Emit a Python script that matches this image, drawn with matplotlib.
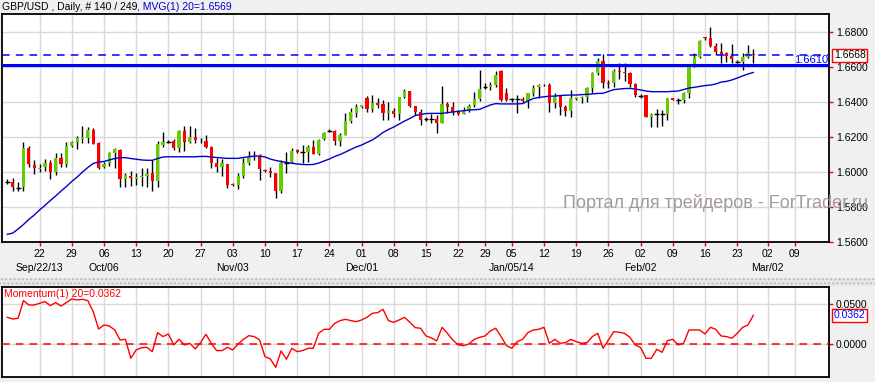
import numpy as np
import matplotlib
matplotlib.use('Agg')
import matplotlib.pyplot as plt
from matplotlib.patches import Rectangle
from matplotlib.transforms import blended_transform_factory

plt.rcParams['font.family'] = ['Liberation Sans', 'DejaVu Sans']

# GBP/USD daily candles
opens = [1.5945, 1.5945, 1.5910, 1.5912, 1.6139, 1.6040, 1.6015, 1.6027, 1.6050, 1.6002,
         1.6082, 1.6044, 1.6150, 1.6173, 1.6190, 1.6196, 1.6240, 1.6164, 1.6027, 1.6050,
         1.6107, 1.6126, 1.5962, 1.5979, 1.5962, 1.5973, 1.5977, 1.5992, 1.5950, 1.6154,
         1.6173, 1.6177, 1.6139, 1.6234, 1.6173, 1.6202, 1.6175, 1.6177, 1.6145, 1.6053,
         1.6030, 1.6046, 1.5930, 1.5926, 1.5977, 1.6050, 1.6088, 1.6094, 1.6010, 1.6006,
         1.5992, 1.5891, 1.6053, 1.6059, 1.6126, 1.6112, 1.6112, 1.6145, 1.6103, 1.6187,
         1.6236, 1.6234, 1.6179, 1.6211, 1.6291, 1.6339, 1.6370, 1.6425, 1.6360, 1.6392,
         1.6386, 1.6339, 1.6349, 1.6332, 1.6430, 1.6463, 1.6379, 1.6345, 1.6303, 1.6301,
         1.6303, 1.6282, 1.6388, 1.6369, 1.6345, 1.6331, 1.6350, 1.6383, 1.6415, 1.6487,
         1.6487, 1.6497, 1.6579, 1.6453, 1.6415, 1.6415, 1.6417, 1.6405, 1.6449, 1.6487,
         1.6495, 1.6497, 1.6396, 1.6440, 1.6369, 1.6350, 1.6419, 1.6423, 1.6430, 1.6478,
         1.6568, 1.6634, 1.6507, 1.6507, 1.6577, 1.6570, 1.6564, 1.6503, 1.6434, 1.6440,
         1.6316, 1.6330, 1.6330, 1.6330, 1.6421, 1.6411, 1.6411, 1.6453, 1.6611, 1.6659,
         1.6773, 1.6764, 1.6720, 1.6684, 1.6678, 1.6665, 1.6631, 1.6631, 1.6659, 1.6672]
highs = [1.5960, 1.5964, 1.5945, 1.6173, 1.6150, 1.6069, 1.6044, 1.6074, 1.6069, 1.6111,
         1.6107, 1.6173, 1.6179, 1.6206, 1.6263, 1.6259, 1.6250, 1.6170, 1.6059, 1.6116,
         1.6135, 1.6130, 1.5992, 1.6006, 1.5996, 1.6025, 1.6025, 1.6069, 1.6179, 1.6227,
         1.6183, 1.6187, 1.6240, 1.6263, 1.6263, 1.6250, 1.6192, 1.6211, 1.6149, 1.6078,
         1.6074, 1.6046, 1.5935, 1.5992, 1.6078, 1.6120, 1.6120, 1.6101, 1.6015, 1.6027,
         1.5992, 1.6069, 1.6116, 1.6135, 1.6130, 1.6154, 1.6154, 1.6183, 1.6189, 1.6230,
         1.6246, 1.6240, 1.6225, 1.6339, 1.6364, 1.6387, 1.6383, 1.6434, 1.6440, 1.6425,
         1.6412, 1.6402, 1.6364, 1.6430, 1.6472, 1.6463, 1.6379, 1.6358, 1.6316, 1.6330,
         1.6326, 1.6491, 1.6402, 1.6402, 1.6354, 1.6373, 1.6387, 1.6459, 1.6583, 1.6507,
         1.6516, 1.6579, 1.6583, 1.6478, 1.6421, 1.6440, 1.6430, 1.6453, 1.6497, 1.6501,
         1.6505, 1.6510, 1.6453, 1.6440, 1.6383, 1.6469, 1.6431, 1.6434, 1.6488, 1.6574,
         1.6650, 1.6672, 1.6526, 1.6587, 1.6625, 1.6621, 1.6574, 1.6507, 1.6446, 1.6440,
         1.6339, 1.6358, 1.6354, 1.6421, 1.6421, 1.6421, 1.6459, 1.6611, 1.6678, 1.6754,
         1.6773, 1.6830, 1.6735, 1.6735, 1.6688, 1.6730, 1.6640, 1.6678, 1.6726, 1.6701]
lows = [1.5931, 1.5893, 1.5893, 1.5893, 1.6030, 1.5987, 1.5998, 1.6006, 1.5958, 1.5981,
        1.6030, 1.6030, 1.6145, 1.6129, 1.6164, 1.6164, 1.6160, 1.6015, 1.6021, 1.6034,
        1.6021, 1.5916, 1.5916, 1.5920, 1.5926, 1.5920, 1.5916, 1.5893, 1.5916, 1.6145,
        1.6164, 1.6126, 1.6116, 1.6122, 1.6168, 1.6164, 1.6164, 1.6135, 1.6025, 1.6002,
        1.5977, 1.5911, 1.5922, 1.5903, 1.5964, 1.6040, 1.6070, 1.5954, 1.6002, 1.5970,
        1.5853, 1.5878, 1.5992, 1.6050, 1.6111, 1.6053, 1.6059, 1.6103, 1.6097, 1.6183,
        1.6227, 1.6154, 1.6149, 1.6211, 1.6278, 1.6316, 1.6364, 1.6345, 1.6345, 1.6364,
        1.6300, 1.6297, 1.6316, 1.6297, 1.6421, 1.6373, 1.6326, 1.6268, 1.6291, 1.6278,
        1.6221, 1.6282, 1.6335, 1.6326, 1.6326, 1.6331, 1.6345, 1.6373, 1.6407, 1.6472,
        1.6468, 1.6487, 1.6407, 1.6405, 1.6402, 1.6335, 1.6392, 1.6364, 1.6434, 1.6421,
        1.6490, 1.6345, 1.6364, 1.6326, 1.6320, 1.6312, 1.6411, 1.6396, 1.6402, 1.6450,
        1.6554, 1.6482, 1.6478, 1.6488, 1.6530, 1.6522, 1.6488, 1.6427, 1.6421, 1.6312,
        1.6255, 1.6255, 1.6263, 1.6297, 1.6411, 1.6389, 1.6392, 1.6421, 1.6602, 1.6650,
        1.6754, 1.6716, 1.6669, 1.6621, 1.6631, 1.6621, 1.6621, 1.6583, 1.6650, 1.6621]
closes = [1.5945, 1.5912, 1.5910, 1.6139, 1.6044, 1.6025, 1.6025, 1.6050, 1.6002, 1.6082,
          1.6044, 1.6149, 1.6173, 1.6192, 1.6198, 1.6240, 1.6160, 1.6025, 1.6046, 1.6107,
          1.6130, 1.5962, 1.5981, 1.5966, 1.5973, 1.5977, 1.5989, 1.5950, 1.6158, 1.6173,
          1.6173, 1.6139, 1.6232, 1.6173, 1.6202, 1.6183, 1.6177, 1.6145, 1.6053, 1.6030,
          1.6050, 1.5926, 1.5926, 1.5977, 1.6050, 1.6088, 1.6092, 1.6017, 1.6006, 1.5992,
          1.5891, 1.6053, 1.6053, 1.6120, 1.6116, 1.6112, 1.6145, 1.6103, 1.6183, 1.6225,
          1.6236, 1.6179, 1.6211, 1.6291, 1.6341, 1.6370, 1.6383, 1.6360, 1.6392, 1.6383,
          1.6339, 1.6349, 1.6332, 1.6430, 1.6465, 1.6379, 1.6341, 1.6297, 1.6303, 1.6301,
          1.6282, 1.6388, 1.6369, 1.6345, 1.6331, 1.6350, 1.6377, 1.6417, 1.6472, 1.6487,
          1.6497, 1.6554, 1.6411, 1.6411, 1.6415, 1.6415, 1.6405, 1.6449, 1.6478, 1.6497,
          1.6499, 1.6392, 1.6430, 1.6369, 1.6350, 1.6421, 1.6427, 1.6427, 1.6478, 1.6568,
          1.6634, 1.6507, 1.6501, 1.6577, 1.6570, 1.6564, 1.6503, 1.6440, 1.6434, 1.6316,
          1.6331, 1.6330, 1.6330, 1.6421, 1.6411, 1.6411, 1.6453, 1.6611, 1.6659, 1.6749,
          1.6768, 1.6720, 1.6684, 1.6669, 1.6665, 1.6644, 1.6631, 1.6659, 1.6678, 1.6668]
# 20 period moving average
mvg20 = [1.5644, 1.5651, 1.5674, 1.5700, 1.5729, 1.5754, 1.5783, 1.5809, 1.5837, 1.5863,
         1.5891, 1.5917, 1.5946, 1.5971, 1.6000, 1.6026, 1.6049, 1.6057, 1.6060, 1.6069,
         1.6077, 1.6082, 1.6082, 1.6077, 1.6073, 1.6069, 1.6067, 1.6067, 1.6077, 1.6086,
         1.6087, 1.6087, 1.6087, 1.6087, 1.6087, 1.6087, 1.6089, 1.6089, 1.6086, 1.6083,
         1.6080, 1.6078, 1.6078, 1.6078, 1.6083, 1.6087, 1.6091, 1.6091, 1.6086, 1.6074,
         1.6066, 1.6060, 1.6055, 1.6050, 1.6046, 1.6043, 1.6042, 1.6043, 1.6051, 1.6063,
         1.6074, 1.6089, 1.6100, 1.6114, 1.6129, 1.6143, 1.6154, 1.6169, 1.6183, 1.6203,
         1.6226, 1.6243, 1.6257, 1.6274, 1.6291, 1.6306, 1.6323, 1.6329, 1.6334, 1.6335,
         1.6335, 1.6335, 1.6339, 1.6343, 1.6347, 1.6350, 1.6354, 1.6356, 1.6358, 1.6371,
         1.6383, 1.6391, 1.6389, 1.6389, 1.6389, 1.6389, 1.6391, 1.6406, 1.6420, 1.6426,
         1.6430, 1.6433, 1.6434, 1.6437, 1.6439, 1.6440, 1.6440, 1.6442, 1.6444, 1.6446,
         1.6449, 1.6450, 1.6460, 1.6471, 1.6474, 1.6477, 1.6478, 1.6474, 1.6469, 1.6463,
         1.6459, 1.6459, 1.6459, 1.6459, 1.6461, 1.6463, 1.6471, 1.6480, 1.6484, 1.6489,
         1.6494, 1.6497, 1.6503, 1.6514, 1.6518, 1.6526, 1.6537, 1.6549, 1.6560, 1.6569]
# Momentum(20)
momentum = [0.0337, 0.0316, 0.0325, 0.0546, 0.0491, 0.0491, 0.0512, 0.0533, 0.0483, 0.0521,
            0.0479, 0.0521, 0.0566, 0.0554, 0.0562, 0.0546, 0.0408, 0.0191, 0.0241, 0.0229,
            0.0179, 0.0054, 0.0062, -0.0175, -0.0071, -0.0042, -0.0038, -0.0092, 0.0146, 0.0096,
            0.0129, -0.0008, 0.0062, -0.0008, 0.0012, -0.0058, 0.0021, 0.0125, 0.0012, -0.0079,
            -0.0079, -0.0038, -0.0071, 0.0004, 0.0062, 0.0108, 0.0096, 0.0054, -0.0154, -0.0183,
            -0.0288, -0.0083, -0.0187, -0.0050, -0.0092, -0.0079, -0.0050, -0.0050, 0.0137, 0.0187,
            0.0187, 0.0262, 0.0296, 0.0312, 0.0296, 0.0283, 0.0304, 0.0337, 0.0387, 0.0396,
            0.0437, 0.0296, 0.0275, 0.0304, 0.0337, 0.0275, 0.0208, 0.0200, 0.0104, 0.0080,
            0.0042, 0.0212, 0.0137, 0.0054, -0.0008, -0.0017, 0.0004, 0.0062, 0.0087, 0.0104,
            0.0167, 0.0200, 0.0096, -0.0017, -0.0050, 0.0033, 0.0062, 0.0146, 0.0179, 0.0187,
            0.0212, 0.0012, 0.0062, 0.0012, 0.0021, 0.0062, 0.0033, 0.0012, 0.0021, 0.0096,
            0.0137, -0.0050, 0.0054, 0.0158, 0.0150, 0.0137, 0.0087, -0.0008, -0.0042, -0.0175,
            -0.0175, -0.0063, -0.0100, 0.0046, 0.0062, -0.0008, 0.0012, 0.0179, 0.0179, 0.0179,
            0.0129, 0.0212, 0.0187, 0.0104, 0.0096, 0.0075, 0.0137, 0.0212, 0.0241, 0.0362]

tick_bars = [6, 12, 18, 24, 30, 36, 42, 48, 54, 60, 66, 72, 78, 84, 89, 94, 100, 106,
             112, 118, 124, 130, 136, 141.7, 146.7]
tick_days = ['22', '29', '06', '13', '20', '27', '03', '10', '17', '24', '01', '08', '15',
             '22', '29', '05', '12', '19', '26', '02', '09', '16', '23', '02', '09']
month_bars = [6, 18, 42, 66, 94, 118, 141.7]
month_labels = ['Sep/22/13', 'Oct/06', 'Nov/03', 'Dec/01', 'Jan/05/14', 'Feb/02', 'Mar/02']
price_ticks = [1.56, 1.58, 1.60, 1.62, 1.64, 1.66, 1.68]
mom_ticks = [0.0, 0.05]
level_line = 1.6610

W, H = 875, 382
fig = plt.figure(figsize=(W / 100, H / 100), dpi=100, facecolor='#f0f0f0')


def box(l, t, r, b):
    return [l / W, 1 - b / H, (r - l) / W, (b - t) / H]


ax = fig.add_axes(box(2, 14, 829, 242))
ax2 = fig.add_axes(box(2, 287, 829, 377))

o, h, l, c = (np.array(v) for v in (opens, highs, lows, closes))
x = np.arange(len(c))
xlim = (-1.0, 153.1)

# candles
ax.vlines(x, l, h, color='black', lw=1, zorder=3)
body = np.maximum(np.abs(c - o), 0.0002)
up = c > o
dn = c < o
flat = c == o
ax.bar(x[up], body[up], bottom=o[up], width=0.6, color='#66cc00', lw=0, zorder=4)
ax.bar(x[dn], body[dn], bottom=c[dn], width=0.6, color='#ff0000', lw=0, zorder=4)
ax.hlines(c[flat], x[flat] - 0.45, x[flat] + 0.45, color='black', lw=1, zorder=4)

ax.plot(x, mvg20, color='#0000cc', lw=1, zorder=5)
ax.axhline(level_line, color='#0000ff', lw=2.2, zorder=6)
ax.axhline(closes[-1], color='#0000ff', lw=1.1, ls=(0, (5, 4)), zorder=6)

ax.set_xlim(*xlim)
ax.set_ylim(1.56, 1.6903)
ax.set_facecolor('white')
ax.grid(color='#d9d9d9', lw=1)
ax.set_axisbelow(True)
ax.yaxis.tick_right()
ax.set_yticks(price_ticks)
ax.set_yticklabels(['%.4f' % v for v in price_ticks])
ax.set_xticks(tick_bars)
ax.set_xticklabels(tick_days)
ax.tick_params(axis='both', colors='red', labelcolor='black', length=3, width=1,
               labelsize=7.5, pad=2)
for s in ax.spines.values():
    s.set_linewidth(1.3)
    s.set_color('black')

yblend = blended_transform_factory(ax.transAxes, ax.transData)
ax.text(0.999, level_line + 0.0002, '%.4f' % level_line, transform=yblend, ha='right',
        va='bottom', color='#0000ff', fontsize=8, zorder=7)
ax.text(1.006, closes[-1], '%.4f' % closes[-1], transform=yblend, ha='left', va='center',
        fontsize=7.5, color='black', clip_on=False,
        bbox=dict(boxstyle='square,pad=0.15', fc='white', ec='red', lw=1))

xblend = blended_transform_factory(ax.transData, ax.transAxes)
for b, lab in zip(month_bars, month_labels):
    ax.text(b, -0.114, lab, transform=xblend, ha='center', va='center', fontsize=7.5)

fig.text(2 / W, 1 - 7.5 / H, 'GBP/USD , Daily, # 140 / 249', va='center', fontsize=7.5)
fig.text(137 / W, 1 - 7.5 / H, ', MVG(1) 20=%.4f' % mvg20[-1], va='center', fontsize=7.5,
         color='#0000cc')

# momentum panel
ax2.plot(x, momentum, color='red', lw=1, zorder=4)
ax2.axhline(0, color='red', lw=1.1, ls=(0, (5, 4)), zorder=3)
ax2.set_xlim(*xlim)
ax2.set_ylim(-0.0409, 0.0716)
ax2.set_facecolor('white')
ax2.grid(color='#d9d9d9', lw=1)
ax2.set_axisbelow(True)
ax2.set_xticks(tick_bars)
ax2.set_xticklabels([])
ax2.tick_params(axis='x', length=0)
ax2.yaxis.tick_right()
ax2.set_yticks(mom_ticks)
ax2.set_yticklabels(['%.4f' % v for v in mom_ticks])
ax2.tick_params(axis='y', colors='red', labelcolor='black', length=3, width=1,
                labelsize=7.5, pad=2)
for s in ax2.spines.values():
    s.set_linewidth(1.3)
    s.set_color('black')
ax2.text(0.002, 0.92, 'Momentum(1) 20=%.4f' % momentum[-1], transform=ax2.transAxes,
         color='red', fontsize=7.5, va='center', ha='left')
yblend2 = blended_transform_factory(ax2.transAxes, ax2.transData)
ax2.text(1.006, momentum[-1], '%.4f' % momentum[-1], transform=yblend2, ha='left',
         va='center', fontsize=7.5, color='#0000ff', clip_on=False,
         bbox=dict(boxstyle='square,pad=0.15', fc='white', ec='red', lw=1))

# panel separator strip
fig.patches.append(Rectangle((0, 1 - 286 / H), 1, 8 / H, transform=fig.transFigure,
                             facecolor='#e8e8e8', edgecolor='#bdbdbd', hatch='....', lw=0))

# watermark
fig.text(868 / W, 1 - 203 / H, 'Портал для трейдеров - ForTrader.ru', ha='right',
         va='center', fontsize=13, color='#a39999')

fig.savefig('out.png', dpi=100, facecolor=fig.get_facecolor())
